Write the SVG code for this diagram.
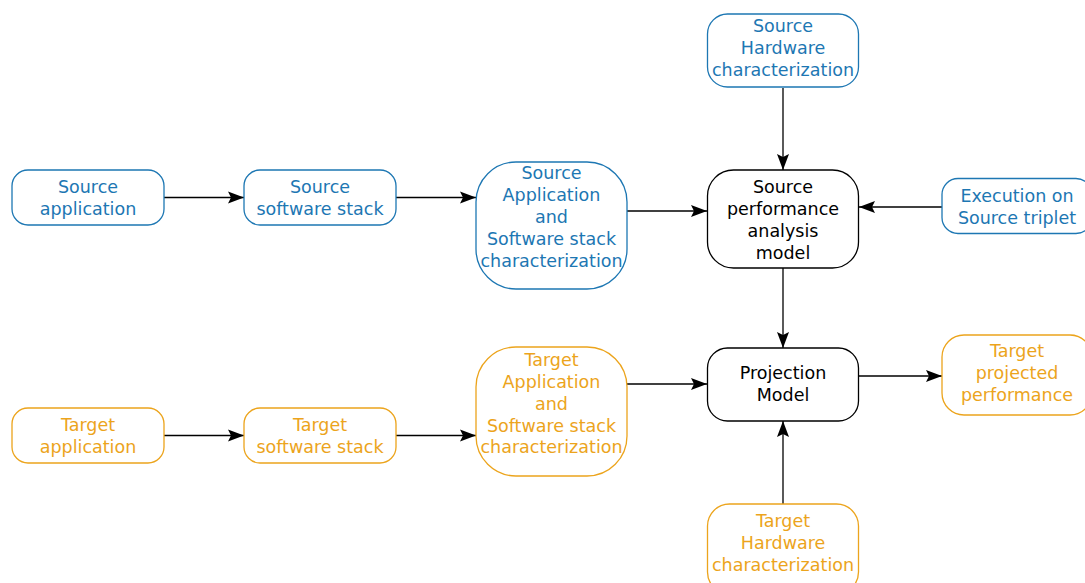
<svg xmlns="http://www.w3.org/2000/svg" width="1085" height="583" viewBox="0 0 1085 583">
<style>
.b{fill:#fff;stroke:#1d77b3;stroke-width:1.3}
.o{fill:#fff;stroke:#eca41c;stroke-width:1.3}
.k{fill:#fff;stroke:#000;stroke-width:1.3}
text{font-family:"DejaVu Sans",sans-serif;font-size:17.5px;text-anchor:middle}
.tb{fill:#1d77b3}
.to{fill:#eca41c}
.tk{fill:#000}
.c{stroke:#000;stroke-width:1.3;fill:none;marker-end:url(#ah)}
</style>
<defs>
<marker id="ah" markerUnits="userSpaceOnUse" markerWidth="17" markerHeight="14" refX="16" refY="7" orient="auto">
<path d="M0,1 L16,7 L0,13 L3,7 Z" fill="#000"/>
</marker>
</defs>
<rect width="1085" height="583" fill="#fff"/>
<g id="connectors">
<line class="c" x1="164" y1="197.5" x2="244" y2="197.5"/>
<line class="c" x1="396" y1="197.5" x2="476" y2="197.5"/>
<line class="c" x1="627" y1="211" x2="707" y2="211"/>
<line class="c" x1="783" y1="88" x2="783" y2="170"/>
<line class="c" x1="942" y1="207" x2="859" y2="207"/>
<line class="c" x1="783" y1="268" x2="783" y2="348"/>
<line class="c" x1="164" y1="435.5" x2="244" y2="435.5"/>
<line class="c" x1="396" y1="435.5" x2="476" y2="435.5"/>
<line class="c" x1="627" y1="384" x2="707" y2="384"/>
<line class="c" x1="859" y1="376" x2="942" y2="376"/>
<line class="c" x1="783" y1="504" x2="783" y2="421"/>
</g>
<g id="source-application">
<rect class="b" x="12" y="170" width="152" height="55" rx="16"/>
<text class="tb" x="88" y="193">Source</text>
<text class="tb" x="88" y="215">application</text>
</g>
<g id="source-software-stack">
<rect class="b" x="244" y="170" width="152" height="55" rx="16"/>
<text class="tb" x="320" y="193">Source</text>
<text class="tb" x="320" y="215">software stack</text>
</g>
<g id="source-app-sw-char">
<rect class="b" x="476" y="162" width="151" height="127" rx="40"/>
<text class="tb" x="551.5" y="179">Source</text>
<text class="tb" x="551.5" y="201">Application</text>
<text class="tb" x="551.5" y="223">and</text>
<text class="tb" x="551.5" y="245">Software stack</text>
<text class="tb" x="551.5" y="267">characterization</text>
</g>
<g id="source-hardware">
<rect class="b" x="707.5" y="14" width="151" height="73" rx="20"/>
<text class="tb" x="783" y="32">Source</text>
<text class="tb" x="783" y="54">Hardware</text>
<text class="tb" x="783" y="76">characterization</text>
</g>
<g id="source-perf-model">
<rect class="k" x="707.5" y="170" width="151" height="98" rx="26"/>
<text class="tk" x="783" y="193">Source</text>
<text class="tk" x="783" y="215">performance</text>
<text class="tk" x="783" y="237">analysis</text>
<text class="tk" x="783" y="259">model</text>
</g>
<g id="execution-source-triplet">
<rect class="b" x="942" y="178.5" width="150" height="55" rx="16"/>
<text class="tb" x="1017" y="202">Execution on</text>
<text class="tb" x="1017" y="224">Source triplet</text>
</g>
<g id="projection-model">
<rect class="k" x="707.5" y="348" width="151" height="73" rx="20"/>
<text class="tk" x="783" y="379">Projection</text>
<text class="tk" x="783" y="401">Model</text>
</g>
<g id="target-projected-performance">
<rect class="o" x="942" y="335" width="150" height="80" rx="22"/>
<text class="to" x="1017" y="357">Target</text>
<text class="to" x="1017" y="379">projected</text>
<text class="to" x="1017" y="401">performance</text>
</g>
<g id="target-application">
<rect class="o" x="12" y="408" width="152" height="55" rx="16"/>
<text class="to" x="88" y="431">Target</text>
<text class="to" x="88" y="453">application</text>
</g>
<g id="target-software-stack">
<rect class="o" x="244" y="408" width="152" height="55" rx="16"/>
<text class="to" x="320" y="431">Target</text>
<text class="to" x="320" y="453">software stack</text>
</g>
<g id="target-app-sw-char">
<rect class="o" x="476" y="347" width="151" height="129" rx="40"/>
<text class="to" x="551.5" y="366">Target</text>
<text class="to" x="551.5" y="388">Application</text>
<text class="to" x="551.5" y="410">and</text>
<text class="to" x="551.5" y="432">Software stack</text>
<text class="to" x="551.5" y="453">characterization</text>
</g>
<g id="target-hardware">
<rect class="o" x="707.5" y="504" width="151" height="90" rx="22"/>
<text class="to" x="783" y="527">Target</text>
<text class="to" x="783" y="549">Hardware</text>
<text class="to" x="783" y="571">characterization</text>
</g>
</svg>
